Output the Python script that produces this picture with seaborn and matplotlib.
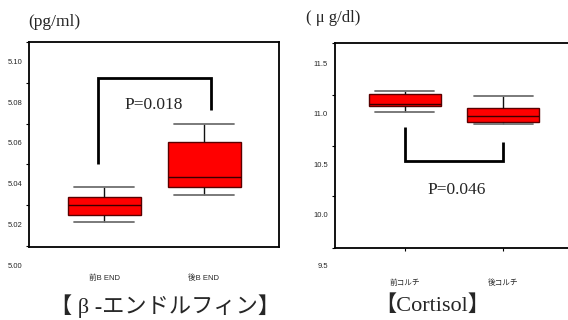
import numpy as np
import pandas as pd
import matplotlib
matplotlib.use("Agg")
import matplotlib.pyplot as plt
from matplotlib.colors import to_hex
import seaborn as sns

# Values (whisker low, Q1, median, Q3, whisker high)
end_groups = ["前B END", "後B END"]
end_before = [5.0216, 5.0253, 5.0302, 5.0338, 5.0388]
end_after = [5.0351, 5.0388, 5.0437, 5.0609, 5.0697]
end_p = "P=0.018"
end_bracket_x = [-0.06, -0.06, 1.07, 1.07]
end_bracket_y = [5.050, 5.0921, 5.0921, 5.0767]
end_labels = [5.10, 5.08, 5.06, 5.04, 5.02, 5.00]
end_ticks = [5.11, 5.09, 5.07, 5.05, 5.03, 5.01]

cort_groups = ["前コルチ", "後コルチ"]
cort_before = [11.03, 11.09, 11.105, 11.206, 11.236]
cort_after = [10.905, 10.93, 10.99, 11.07, 11.19]
cort_p = "P=0.046"
cort_bracket_x = [0.0, 0.0, 1.0, 1.0]
cort_bracket_y = [10.876, 10.54, 10.54, 10.728]
cort_labels = [11.5, 11.0, 10.5, 10.0, 9.5]
cort_ticks = [11.71, 11.20, 10.69, 10.19, 9.68]

CAP = "#707070"

sns.set_style("white")
plt.rcParams["font.family"] = ["Liberation Sans", "Noto Sans CJK JP"]

W, H = 568, 320
fig = plt.figure(figsize=(W / 100, H / 100), dpi=100)
ax1 = fig.add_axes([29 / W, (H - 247) / H, (279 - 29) / W, (247 - 42) / H])
ax2 = fig.add_axes([335 / W, (H - 248) / H, (569 - 335) / W, (248 - 43) / H])


def draw_panel(ax, groups, before, after, ylim, xlim, ticks, labels, fmt,
               bx, by, ptext, pxy, xticks_len):
    df = pd.DataFrame({
        "group": [groups[0]] * len(before) + [groups[1]] * len(after),
        "value": before + after,
    })
    sns.boxplot(data=df, x="group", y="value", ax=ax, width=0.73, whis=np.inf,
                color="#ff0000", saturation=1, linewidth=1.0,
                boxprops={"facecolor": "#ff0000", "edgecolor": "#5a0000"},
                medianprops={"color": "#3a0000", "linewidth": 1.0},
                whiskerprops={"color": "#111111", "linewidth": 1.0},
                capprops={"color": CAP, "linewidth": 1.3})
    # widen the whisker caps to ~0.83 of the box width
    for ln in ax.lines:
        if to_hex(ln.get_color()) == CAP:
            xs = np.asarray(ln.get_xdata(), dtype=float)
            c = xs.mean()
            ln.set_xdata([c - 0.30, c + 0.30])
    ax.plot(bx, by, color="black", lw=2.0, solid_capstyle="butt",
            solid_joinstyle="miter")
    ax.text(pxy[0], pxy[1], ptext, ha="center", va="center", fontsize=12.5,
            family=["Liberation Serif"])
    ax.set_ylim(*ylim)
    ax.set_xlim(*xlim)
    ax.set_yticks(ticks)
    ax.set_yticklabels([""] * len(ticks))
    ax.tick_params(axis="y", direction="out", length=2.5, width=0.8, color="black", left=True)
    ax.tick_params(axis="x", direction="out", length=xticks_len, width=0.8,
                   color="black", bottom=True, pad=20, labelsize=5.5)
    for lab in ax.get_xticklabels():
        lab.set_family(["Liberation Sans", "Noto Sans CJK JP"])
    ax.set_xlabel("")
    ax.set_ylabel("")
    for v in labels:
        ax.annotate(fmt.format(v), xy=(0, v), xycoords=("axes fraction", "data"),
                    xytext=(-5, 0), textcoords="offset points", ha="right",
                    va="center", fontsize=5.5, annotation_clip=False)
    for s in ax.spines.values():
        s.set_color("black")
        s.set_linewidth(1.3)


draw_panel(ax1, end_groups, end_before, end_after, (5.0094, 5.1099), (-0.75, 1.75),
           end_ticks, end_labels, "{:.2f}", end_bracket_x, end_bracket_y,
           end_p, (0.5, 5.0792), 0)
draw_panel(ax2, cort_groups, cort_before, cort_after, (9.68, 11.71), (-0.71, 1.67),
           cort_ticks, cort_labels, "{:.1f}", cort_bracket_x, cort_bracket_y,
           cort_p, (0.53, 10.25), 2.5)
ax2.spines["right"].set_visible(False)

fig.text(28 / W, 1 - 22 / H, "(pg/ml)", ha="left", va="center", fontsize=12.5,
         family=["Liberation Serif"])
fig.text(306 / W, 1 - 18 / H, "( μ g/dl)", ha="left", va="center", fontsize=12,
         family=["Liberation Serif"])
fig.text(165 / W, 1 - 306 / H, "【 β -エンドルフィン】", ha="center", va="center",
         fontsize=16, family=["Liberation Serif", "Noto Sans CJK JP"])
fig.text(432 / W, 1 - 306 / H, "【Cortisol】", ha="center", va="center",
         fontsize=16, family=["Liberation Serif", "Noto Sans CJK JP"])

fig.savefig("out.png", dpi=100)
